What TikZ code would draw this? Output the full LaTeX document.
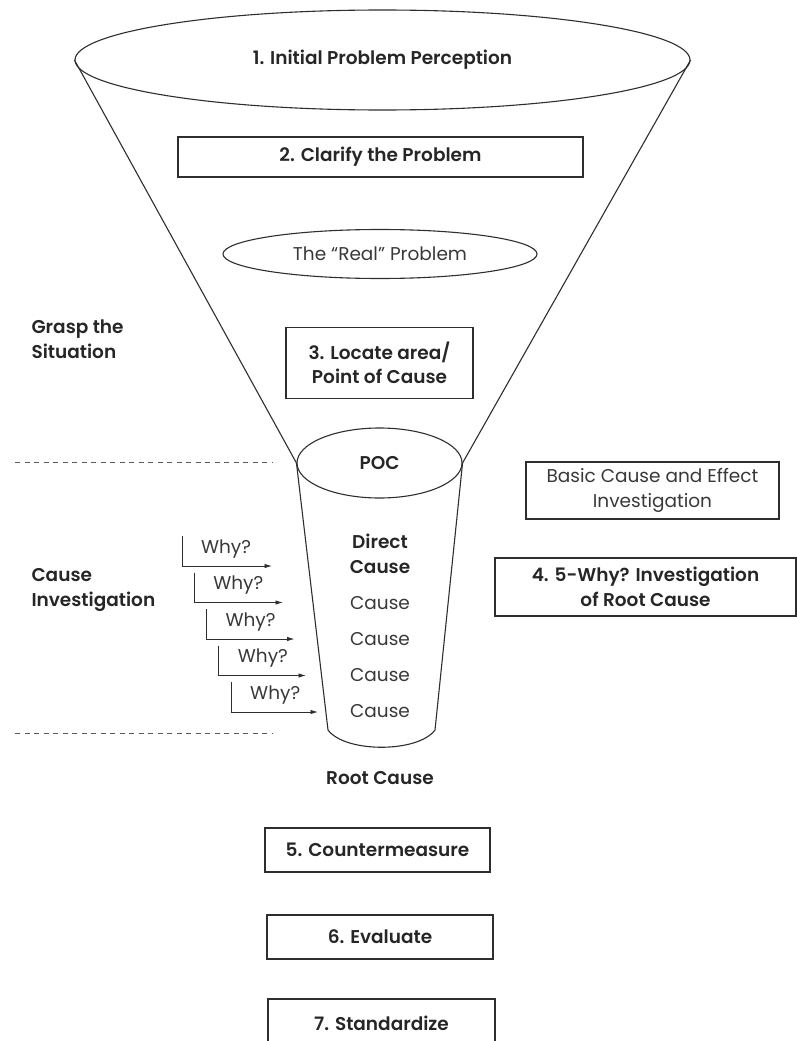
\documentclass[tikz,border=0pt]{standalone}
\usepackage{fontspec}
\setmainfont{Poppins}[BoldFont={Poppins SemiBold}]
\usetikzlibrary{shapes.geometric,arrows.meta}
\definecolor{ink}{HTML}{2E2E2E}
\definecolor{txt}{HTML}{262626}
\definecolor{soft}{HTML}{383838}
\definecolor{rule}{HTML}{5A5A5A}
\begin{document}
\begin{tikzpicture}[x=1pt,y=-1pt,
  every node/.style={text=txt},
  outline/.style={draw=ink, line width=1.1pt},
  strong/.style={font=\fontsize{18.5}{24.5}\selectfont\bfseries},
  light/.style={font=\fontsize{18.5}{24.5}\selectfont, text=soft},
  stepbox/.style={outline, rectangle, inner sep=0pt, align=center, strong},
  notebox/.style={outline, rectangle, inner sep=0pt, align=center, light},
  oval/.style={outline, ellipse, inner sep=0pt},
  heading/.style={strong, align=left, anchor=west},
  divider/.style={draw=rule, line width=0.9pt, dash pattern=on 5pt off 4.5pt},
  whyarrow/.style={draw=ink, line width=0.9pt, -{Latex[length=7.5pt,width=4.5pt]}}
]
\useasboundingbox (0,0) rectangle (797,1041);
\clip (0,0) rectangle (797,1041);

% funnel mouth and neck
\node[oval, minimum width=615, minimum height=100, strong] (mouth) at (382.5,60) {1. Initial Problem Perception};
\node[oval, minimum width=165, minimum height=70, strong] (poc) at (379.5,463) {POC};
\draw[outline] (mouth.west) -- (poc.west);
\draw[outline] (mouth.east) -- (poc.east);

% stem of the funnel
\coordinate (stemL) at (328,730);
\coordinate (stemR) at (435,730);
\draw[outline] (poc.west) -- (stemL);
\draw[outline] (poc.east) -- (stemR);
\draw[outline] (stemL) .. controls (345,753) and (418,753) .. (stemR);

% steps inside the funnel
\node[stepbox, minimum width=405, minimum height=40] (clarify) at (380.5,157) {2. Clarify the Problem};
\node[oval, minimum width=314, minimum height=49, light] (real) at (380,254) {The “Real” Problem};
\node[stepbox, minimum width=187, minimum height=71] (locate) at (379.5,363) {3. Locate area/\\Point of Cause};

% phase labels and separators
\node[heading] (grasp) at (28,339) {Grasp the\\Situation};
\node[heading] (causeinv) at (28,590) {Cause\\Investigation};
\coordinate (d1a) at (15,462);
\coordinate (d1b) at (272,462);
\coordinate (d2a) at (15,733);
\coordinate (d2b) at (272,733);
\draw[divider] (d1a) -- (d1b);
\draw[divider] (d2a) -- (d2b);

% right-hand notes
\node[notebox, minimum width=253, minimum height=57] (basic) at (652.5,490.5) {Basic Cause and Effect\\Investigation};
\node[stepbox, minimum width=301, minimum height=58] (fivewhy) at (645.5,587) {4. 5-Why? Investigation\\of Root Cause};

% chain of causes in the stem
\node[strong, align=center] (direct) at (380,554) {Direct\\Cause};
\node[light] (c1) at (380,603) {Cause};
\node[light] (c2) at (380,639) {Cause};
\node[light] (c3) at (380,675) {Cause};
\node[light] (c4) at (380,711) {Cause};

% the five "Why?" questions
\foreach \i/\x/\y/\tip in {1/182/566/272, 2/194.3/602.5/283, 3/206.6/639/294.5, 4/218.9/675.5/306, 5/231.2/712/318}{
  \coordinate (wtop\i) at (\x,\y-30);
  \coordinate (wtip\i) at (\tip,\y);
  \draw[whyarrow] (wtop\i) |- (wtip\i);
  \node[light] (why\i) at (\x+44,\y-17) {Why?};
}

% outcome and follow-up steps
\node[strong] (root) at (380,778) {Root Cause};
\node[stepbox, minimum width=225, minimum height=44] (counter) at (377.5,850) {5. Countermeasure};
\node[stepbox, minimum width=226, minimum height=44] (evaluate) at (380,937) {6. Evaluate};
\node[stepbox, minimum width=227, minimum height=48] (standard) at (381.5,1023) {7. Standardize};
\end{tikzpicture}
\end{document}
